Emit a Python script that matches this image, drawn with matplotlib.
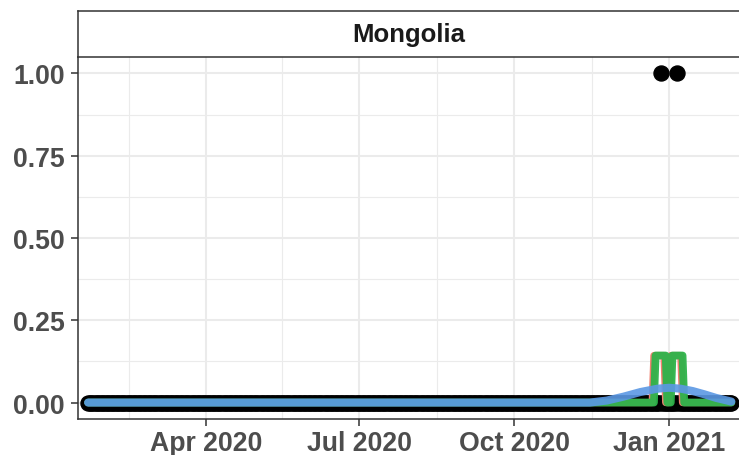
import numpy as np
import pandas as pd
import matplotlib
matplotlib.use("Agg")
import matplotlib.pyplot as plt

plt.rcParams['font.family'] = ['Liberation Sans', 'DejaVu Sans']

# Daily new cases (share) - Mongolia
dates = pd.date_range("2020-01-22", "2021-02-07", freq="D")
spikes = {"2020-12-27": 1.0, "2021-01-06": 1.0}
daily = pd.Series(0.0, index=dates)
for d, v in spikes.items():
    daily[pd.Timestamp(d)] = v

# 7-day rolling averages (two alignments)
roll_center = daily.rolling(7, center=True, min_periods=1).mean()
roll_left = daily.rolling(7, min_periods=1).mean().shift(-4).fillna(0)

# smoothed trend
smooth_dates = pd.to_datetime([
    "2020-01-22", "2020-11-15", "2020-11-25", "2020-12-05", "2020-12-15",
    "2020-12-25", "2021-01-01", "2021-01-08", "2021-01-15", "2021-01-22",
    "2021-01-29", "2021-02-07"])
smooth_vals = [0.0, 0.0, 0.006, 0.018, 0.032, 0.042, 0.045, 0.042, 0.035,
               0.025, 0.014, 0.003]

tick_dates = pd.to_datetime(["2020-04-01", "2020-07-01", "2020-10-01", "2021-01-01"])
tick_labels = ["Apr 2020", "Jul 2020", "Oct 2020", "Jan 2021"]
minor_dates = pd.to_datetime(["2020-02-15", "2020-05-16", "2020-08-16", "2020-11-16"])
y_ticks = [0.0, 0.25, 0.5, 0.75, 1.0]
y_minor = [0.125, 0.375, 0.625, 0.875]

W, H = 739, 456
fig = plt.figure(figsize=(W / 100, H / 100), dpi=100)
ax = fig.add_axes([78 / W, (H - 420) / H, (760 - 78) / W, (420 - 58) / H])
strip = fig.add_axes([78 / W, (H - 58) / H, (760 - 78) / W, 46 / H])

ax.plot(dates, daily, 'o', color='black', markersize=10.8, zorder=3)
ax.plot(roll_left.index, roll_left, color='#f08070', lw=5.2,
        solid_capstyle='round', solid_joinstyle='round', zorder=4)
ax.plot(roll_center.index, roll_center, color='#2db34a', lw=5.6, alpha=0.95,
        solid_capstyle='round', solid_joinstyle='round', zorder=5)
ax.plot(smooth_dates, smooth_vals, color='#5b98e4', lw=5.8, alpha=0.9,
        solid_capstyle='round', solid_joinstyle='round', zorder=6)

ax.set_xlim(pd.Timestamp("2020-01-16"), pd.Timestamp("2021-02-24"))
ax.set_ylim(-0.05, 1.05)
ax.set_xticks(tick_dates)
ax.set_xticklabels(tick_labels)
ax.set_xticks(minor_dates, minor=True)
ax.set_yticks(y_ticks)
ax.set_yticklabels(["%.2f" % v for v in y_ticks])
ax.set_yticks(y_minor, minor=True)

ax.grid(which='major', color='#ebebeb', lw=1.5, zorder=0)
ax.grid(which='minor', color='#ebebeb', lw=0.8, zorder=0)
ax.set_axisbelow(True)
for s in ['top', 'right']:
    ax.spines[s].set_visible(False)
for s in ['left', 'bottom']:
    ax.spines[s].set_color('#333333')
    ax.spines[s].set_linewidth(1.1)
ax.tick_params(which='major', length=5, width=1.1, color='#333333',
               labelcolor='#4d4d4d', labelsize=19.2, pad=4.5)
ax.tick_params(axis='x', which='major', pad=3)
ax.tick_params(which='minor', length=0)
for lab in ax.get_xticklabels() + ax.get_yticklabels():
    lab.set_fontweight('bold')

strip.set_xticks([])
strip.set_yticks([])
strip.spines['right'].set_visible(False)
for s in ['top', 'left', 'bottom']:
    strip.spines[s].set_color('#333333')
    strip.spines[s].set_linewidth(1.1)
strip.text(0.5 * (W - 78) / (760 - 78), 0.5, "Mongolia", transform=strip.transAxes,
           ha='center', va='center', fontsize=18.5, fontweight='bold', color='#1a1a1a')

fig.savefig("out.png", dpi=100)
